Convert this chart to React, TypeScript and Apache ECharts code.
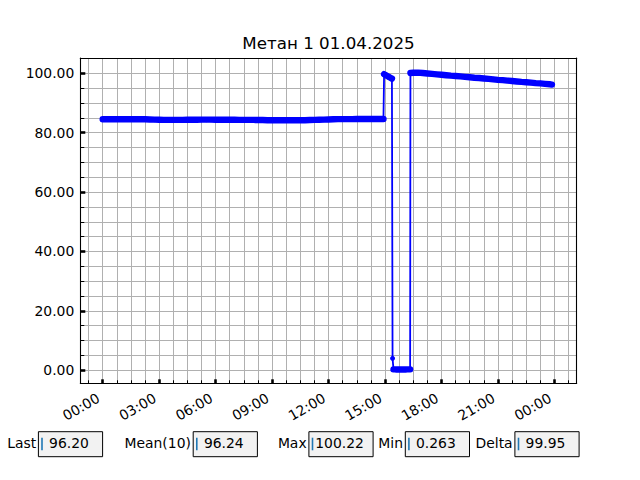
import React, { useEffect, useRef } from "react";
import * as echarts from "echarts";

const TITLE = "Метан 1 01.04.2025";

const morningTimes = [
  "00:00", "00:15", "00:30", "00:45", "01:00", "01:15", "01:30", "01:45", "02:00", "02:15", "02:30", "02:45",
  "03:00", "03:15", "03:30", "03:45", "04:00", "04:15", "04:30", "04:45", "05:00", "05:15", "05:30", "05:45",
  "06:00", "06:15", "06:30", "06:45", "07:00", "07:15", "07:30", "07:45", "08:00", "08:15", "08:30", "08:45",
  "09:00", "09:15", "09:30", "09:45", "10:00", "10:15", "10:30", "10:45", "11:00", "11:15", "11:30", "11:45",
  "12:00", "12:15", "12:30", "12:45", "13:00", "13:15", "13:30", "13:45", "14:00", "14:15", "14:30", "14:45", "14:55",
];
const morningValues = [
  84.5, 84.5, 84.5, 84.5, 84.5, 84.5, 84.5, 84.5, 84.5, 84.5, 84.45, 84.4,
  84.35, 84.3, 84.3, 84.3, 84.3, 84.3, 84.35, 84.35, 84.35, 84.4, 84.4, 84.4,
  84.35, 84.35, 84.35, 84.35, 84.35, 84.3, 84.3, 84.3, 84.3, 84.25, 84.25, 84.2,
  84.2, 84.2, 84.2, 84.2, 84.2, 84.2, 84.2, 84.2, 84.25, 84.3, 84.35, 84.4,
  84.45, 84.5, 84.55, 84.55, 84.55, 84.55, 84.6, 84.6, 84.6, 84.6, 84.6, 84.6, 84.6,
];

const spikeTimes = ["14:57", "15:02", "15:07", "15:12", "15:17", "15:22"];
const spikeValues = [99.7, 99.4, 99.1, 98.8, 98.5, 98.2];

const dropTimes = ["15:24"];
const dropValues = [4.0];

const lowTimes = ["15:27", "15:31", "15:36", "15:41", "15:46", "15:51", "15:56", "16:01", "16:06", "16:11", "16:16", "16:20"];
const lowValues = [0.3, 0.28, 0.27, 0.27, 0.263, 0.27, 0.28, 0.27, 0.27, 0.28, 0.28, 0.29];

const eveningTimes = [
  "16:21", "16:30", "16:45", "17:00", "17:15", "17:30", "17:45", "18:00", "18:15", "18:30", "18:45",
  "19:00", "19:15", "19:30", "19:45", "20:00", "20:15", "20:30", "20:45", "21:00", "21:15", "21:30", "21:45",
  "22:00", "22:15", "22:30", "22:45", "23:00", "23:15", "23:30", "23:45", "23:52",
];
const eveningValues = [
  100.1, 100.2, 100.22, 100.1, 99.95, 99.8, 99.65, 99.5, 99.35, 99.2, 99.1,
  98.95, 98.8, 98.65, 98.5, 98.4, 98.25, 98.1, 97.95, 97.8, 97.7, 97.55, 97.4,
  97.25, 97.1, 97.0, 96.85, 96.7, 96.6, 96.45, 96.3, 96.2,
];

const xMajorTicks = [0, 180, 360, 540, 720, 900, 1080, 1260, 1440];
const yMajorTicks = [0, 20, 40, 60, 80, 100];

const statLabels = ["Last", "Mean(10)", "Max", "Min", "Delta"];
const statValues = [" 96.20", " 96.24", "100.22", " 0.263", " 99.95"];

// layout
const BOX_X = [38.4, 193.2, 308.9, 405.3, 514.9];
const X_MIN = -71.4;
const X_MAX = 1511;
const Y_MIN = -4.4;
const Y_MAX = 105.15;
const FONT = '"DejaVu Sans", "Liberation Sans", sans-serif';
const BLUE = "#0000ff";

const toMin = (t: string) => {
  const [h, m] = t.split(":").map(Number);
  return h * 60 + m;
};
const pad = (n: number) => (n < 10 ? "0" + n : "" + n);
const pairs = (ts: string[], vs: number[]) => ts.map((t, i) => [toMin(t), vs[i]] as [number, number]);

export default function App() {
  const ref = useRef<HTMLDivElement>(null);
  useEffect(() => {
    if (!ref.current) return;
    const chart = echarts.init(ref.current, undefined, { renderer: "svg" });

    const morning = pairs(morningTimes, morningValues);
    const spike = pairs(spikeTimes, spikeValues);
    const drop = pairs(dropTimes, dropValues);
    const low = pairs(lowTimes, lowValues);
    const evening = pairs(eveningTimes, eveningValues);
    const all = [...morning, ...spike, ...drop, ...low, ...evening];

    const xMinor: number[] = [];
    for (let i = 0; i < xMajorTicks.length; i++) {
      const v = xMajorTicks[i];
      for (let k = -1; k <= 3; k++) {
        const w = v + k * 45;
        if (w > X_MIN && w < X_MAX && xMinor.indexOf(w) < 0) xMinor.push(w);
      }
    }
    xMinor.sort((a, b) => a - b);
    const yMinor: number[] = [];
    for (let i = 0; i < yMajorTicks.length; i++) {
      for (let k = 0; k < 4; k++) {
        const w = yMajorTicks[i] + k * 5;
        if (w <= 100) yMinor.push(w);
      }
    }

    const fmtX = (v: number) => {
      const m = ((Math.round(v) % 1440) + 1440) % 1440;
      return pad(Math.floor(m / 60)) + ":" + pad(m % 60);
    };

    const grid = { left: 80.3, right: 63.3, top: 58, bottom: 96.7 };
    const gridColor = "#b0b0b0";

    const graphics: any[] = [
      {
        type: "text",
        x: 328.5,
        y: 42.9,
        style: {
          text: TITLE,
          fill: "#000",
          font: `16.7px ${FONT}`,
          textAlign: "center",
          textVerticalAlign: "middle",
          align: "center",
          verticalAlign: "middle",
        },
      },
    ];
    statLabels.forEach((lab, i) => {
      const bx = BOX_X[i];
      const val = statValues[i];
      const lead = val.startsWith(" ");
      graphics.push({
        type: "rect",
        shape: { x: bx, y: 431.7, width: 64.2, height: 25 },
        style: { fill: "#f2f2f2", stroke: "#000", lineWidth: 1 },
      });
      graphics.push({
        type: "line",
        shape: { x1: bx + 3.6, y1: 437.7, x2: bx + 3.6, y2: 450.3 },
        style: { stroke: "#1f77b4", lineWidth: 1.6 },
      });
      graphics.push({
        type: "text",
        x: bx - 2.3,
        y: 443,
        style: {
          text: lab,
          fill: "#000",
          font: `13.9px ${FONT}`,
          textAlign: "right",
          textVerticalAlign: "middle",
          align: "right",
          verticalAlign: "middle",
        },
      });
      graphics.push({
        type: "text",
        x: bx + 6.3 + (lead ? 4.4 : 0),
        y: 443,
        style: {
          text: val.trim(),
          fill: "#000",
          font: `13.9px ${FONT}`,
          textAlign: "left",
          textVerticalAlign: "middle",
          align: "left",
          verticalAlign: "middle",
        },
      });
    });

    const band = (d: [number, number][]) => ({
      type: "line",
      xAxisIndex: 0,
      yAxisIndex: 0,
      data: d,
      showSymbol: false,
      symbol: "none",
      silent: true,
      lineStyle: { color: BLUE, width: 6.4, cap: "round", join: "round" },
      z: 3,
    });

    chart.setOption({
      animation: false,
      backgroundColor: "#ffffff",
      grid,
      graphic: graphics,
      xAxis: [
        {
          type: "value",
          min: X_MIN,
          max: X_MAX,
          position: "bottom",
          axisLine: { show: true, onZero: false, lineStyle: { color: "#000", width: 1.1 } },
          axisTick: { show: true, inside: true, length: 3, customValues: xMinor, lineStyle: { color: "#000", width: 1 } },
          axisLabel: { show: false },
          splitLine: { show: true, lineStyle: { color: gridColor, width: 1 } },
        },
        {
          type: "value",
          min: X_MIN,
          max: X_MAX,
          position: "bottom",
          axisLine: { show: false, onZero: false },
          axisTick: { show: true, inside: true, length: 4, customValues: xMajorTicks, lineStyle: { color: "#000", width: 2.6 } },
          axisLabel: {
            show: true,
            customValues: xMajorTicks,
            rotate: 30,
            margin: 11,
            padding: [0, 5, 0, 0],
            formatter: fmtX,
            color: "#000",
            fontSize: 13.9,
            fontFamily: FONT,
            showMinLabel: true,
            showMaxLabel: true,
          },
          splitLine: { show: false },
        },
        {
          type: "value",
          min: X_MIN,
          max: X_MAX,
          position: "top",
          axisLine: { show: true, onZero: false, lineStyle: { color: "#000", width: 1.1 } },
          axisTick: { show: false },
          axisLabel: { show: false },
          splitLine: { show: false },
        },
      ],
      yAxis: [
        {
          type: "value",
          min: Y_MIN,
          max: Y_MAX,
          position: "left",
          axisLine: { show: true, onZero: false, lineStyle: { color: "#000", width: 1.1 } },
          axisTick: { show: true, inside: true, length: 4, customValues: yMinor, lineStyle: { color: "#000", width: 1 } },
          axisLabel: { show: false },
          splitLine: { show: true, lineStyle: { color: gridColor, width: 1 } },
        },
        {
          type: "value",
          min: Y_MIN,
          max: Y_MAX,
          position: "left",
          axisLine: { show: false, onZero: false },
          axisTick: { show: true, inside: true, length: 5, customValues: yMajorTicks, lineStyle: { color: "#000", width: 2.6 } },
          axisLabel: {
            show: true,
            customValues: yMajorTicks,
            margin: 6,
            formatter: (v: number) => v.toFixed(2),
            color: "#000",
            fontSize: 13.9,
            fontFamily: FONT,
          },
          splitLine: { show: false },
        },
        {
          type: "value",
          min: Y_MIN,
          max: Y_MAX,
          position: "right",
          axisLine: { show: true, onZero: false, lineStyle: { color: "#000", width: 1.1 } },
          axisTick: { show: false },
          axisLabel: { show: false },
          splitLine: { show: false },
        },
      ],
      series: [
        band(morning),
        band(spike),
        band(low),
        band(evening),
        {
          type: "line",
          xAxisIndex: 0,
          yAxisIndex: 0,
          data: all,
          symbol: "circle",
          symbolSize: 5,
          showSymbol: true,
          showAllSymbol: true,
          itemStyle: { color: BLUE },
          lineStyle: { color: BLUE, width: 1.8 },
          z: 4,
        },
      ],
    });
    return () => chart.dispose();
  }, []);
  return (
    <div
      ref={ref}
      style={{ position: "fixed", left: 0, top: 0, width: 640, height: 480, background: "#fff" }}
    />
  );
}
